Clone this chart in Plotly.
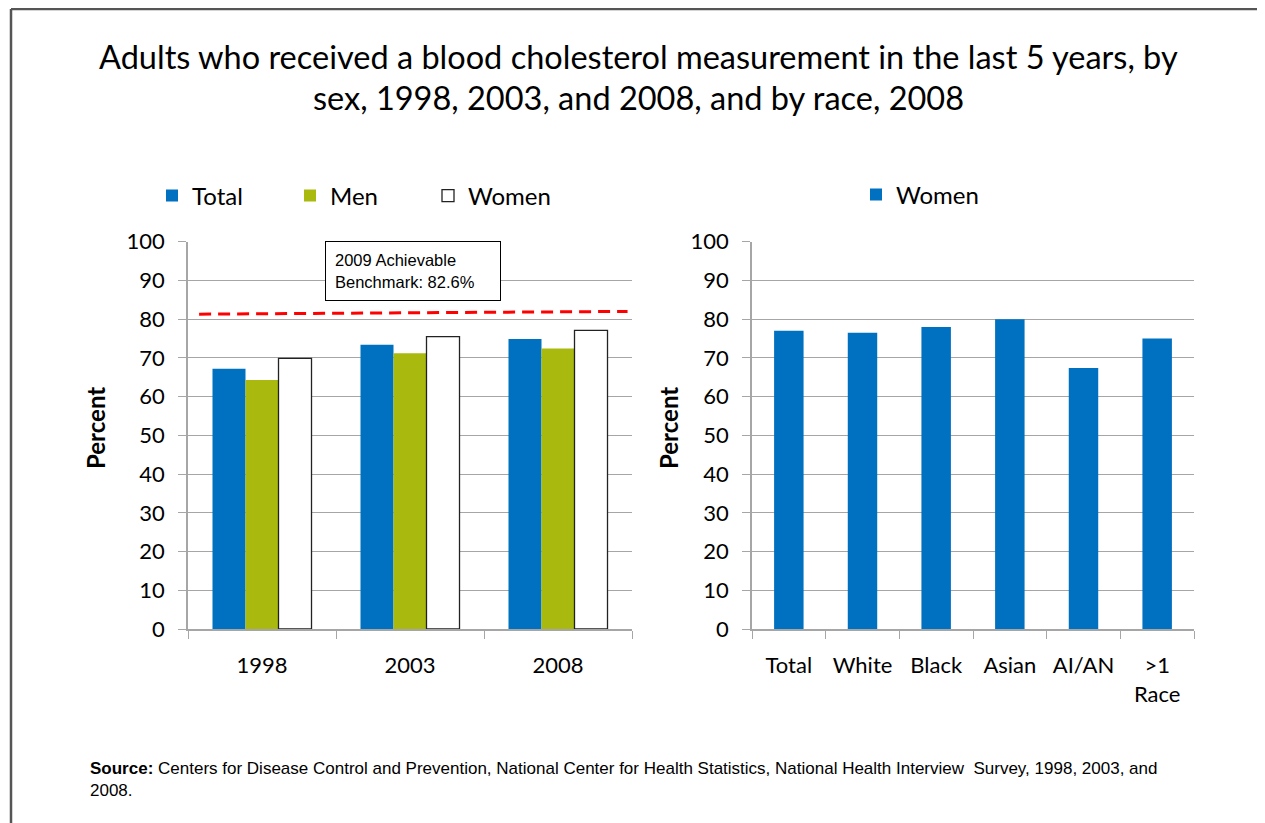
import plotly.graph_objects as go

# ---------------- data ----------------
years = ["1998", "2003", "2008"]
total_vals = [67.2, 73.4, 74.9]
men_vals = [64.3, 71.2, 72.4]
women_vals = [69.9, 75.5, 77.1]

race_labels = ["Total", "White", "Black", "Asian", "AI/AN", ">1<br>Race"]
race_women_vals = [77.0, 76.5, 78.0, 80.0, 67.4, 75.0]

benchmark_line = [81.3, 82.0]
benchmark_label = "2009 Achievable<br>Benchmark: 82.6%"

title_lines = ["Adults who received a blood cholesterol measurement in the last 5 years, by",
               "sex, 1998, 2003, and 2008, and by race, 2008"]
source_text = ("<b>Source:</b> Centers for Disease Control and Prevention, National Center for Health "
               "Statistics, National Health Interview  Survey, 1998, 2003, and<br>2008.")

# ---------------- style ----------------
OFF = 8                      # page body margin
W, H = 1265 - OFF, 823 - OFF
BLUE = "#0070C0"
GREEN = "#A9B90D"
GRID = "#A6A6A6"
FONT = "Lato"


def px(x):
    return (x - OFF) / W


def py(y):
    return 1 - (y - OFF) / H


fig = go.Figure()

fig.add_trace(go.Bar(x=years, y=total_vals, name="Total", marker=dict(color=BLUE, line=dict(width=0)),
                     xaxis="x", yaxis="y", legend="legend"))
fig.add_trace(go.Bar(x=years, y=men_vals, name="Men", marker=dict(color=GREEN, line=dict(width=0)),
                     xaxis="x", yaxis="y", legend="legend"))
fig.add_trace(go.Bar(x=years, y=women_vals, name="Women",
                     marker=dict(color="white", line=dict(color="#222222", width=1.3)),
                     xaxis="x", yaxis="y", legend="legend"))
fig.add_trace(go.Bar(x=race_labels, y=race_women_vals, name="Women", width=0.4,
                     marker=dict(color=BLUE, line=dict(width=0)),
                     xaxis="x2", yaxis="y2", legend="legend2"))

ydom = [py(629), py(241.7)]
common_y = dict(range=[0, 100], dtick=10, showgrid=True, gridcolor=GRID, gridwidth=1,
                showline=True, linecolor=GRID, linewidth=1.5, ticks="outside", ticklen=8,
                tickcolor=GRID, tickfont=dict(family=FONT, size=22, color="black"),
                zeroline=False, fixedrange=True, automargin=False, ticklabelstandoff=9)
common_x = dict(type="category", showline=True, linecolor=GRID, linewidth=1.5, ticks="outside",
                tickson="boundaries", ticklen=8, tickcolor=GRID, showgrid=False, automargin=False,
                tickfont=dict(family=FONT, size=22, color="black"), ticklabelstandoff=16)

fig.update_layout(
    width=W, height=H,
    margin=dict(l=0, r=0, t=0, b=0, autoexpand=False),
    paper_bgcolor="white", plot_bgcolor="white",
    barmode="group", bargap=0.331, bargroupgap=0,
    font=dict(family=FONT, color="black"),
    xaxis=dict(domain=[px(188), px(632)], anchor="y", **common_x),
    yaxis=dict(domain=ydom, anchor="x", **common_y),
    xaxis2=dict(domain=[px(752), px(1194)], anchor="y2", **common_x),
    yaxis2=dict(domain=ydom, anchor="x2", **common_y),
    legend=dict(orientation="h", x=px(152), y=py(196), xanchor="left", yanchor="middle",
                font=dict(family=FONT, size=24, color="black"), entrywidth=93,
                bgcolor="rgba(0,0,0,0)", itemclick=False),
    legend2=dict(orientation="h", x=px(856), y=py(195), xanchor="left", yanchor="middle",
                 font=dict(family=FONT, size=24, color="black"),
                 bgcolor="rgba(0,0,0,0)", itemclick=False),
    showlegend=True,
)

annotations = []
# title
annotations.append(dict(text=title_lines[0], x=px(638), y=py(57), xref="paper", yref="paper",
                        showarrow=False, font=dict(family=FONT, size=32.5), xanchor="center", yanchor="middle"))
annotations.append(dict(text=title_lines[1], x=px(638), y=py(97), xref="paper", yref="paper",
                        showarrow=False, font=dict(family=FONT, size=32.5), xanchor="center", yanchor="middle"))
# y titles
for xc in (95, 668):
    annotations.append(dict(text="<b>Percent</b>", x=px(xc), y=py(428), xref="paper", yref="paper",
                            showarrow=False, textangle=-90, font=dict(family=FONT, size=24),
                            xanchor="center", yanchor="middle"))
# benchmark box
annotations.append(dict(text=benchmark_label, x=px(325), y=py(241), xref="paper", yref="paper",
                        showarrow=False, xanchor="left", yanchor="top", align="left",
                        width=156, height=40, borderpad=9, bordercolor="black", borderwidth=1,
                        bgcolor="white", font=dict(family="Arial", size=16.5, color="black")))
# source
annotations.append(dict(text=source_text, x=px(88), y=py(757), xref="paper", yref="paper",
                        showarrow=False, xanchor="left", yanchor="top", align="left",
                        font=dict(family="Arial", size=17, color="black")))
fig.update_layout(annotations=annotations)

shapes = [
    # benchmark dashed line
    dict(type="line", xref="x domain", yref="y", x0=0.025, x1=0.99,
         y0=benchmark_line[0], y1=benchmark_line[1],
         line=dict(color="#FF0000", width=3, dash="12px,7px")),
    # frame
    dict(type="line", xref="paper", yref="paper", x0=px(11), x1=px(11), y0=py(9), y1=0,
         line=dict(color="#555555", width=2.5)),
    dict(type="line", xref="paper", yref="paper", x0=px(11), x1=1, y0=py(9), y1=py(9),
         line=dict(color="#555555", width=2.5)),
]
fig.update_layout(shapes=shapes)

fig.write_html("out.html")
